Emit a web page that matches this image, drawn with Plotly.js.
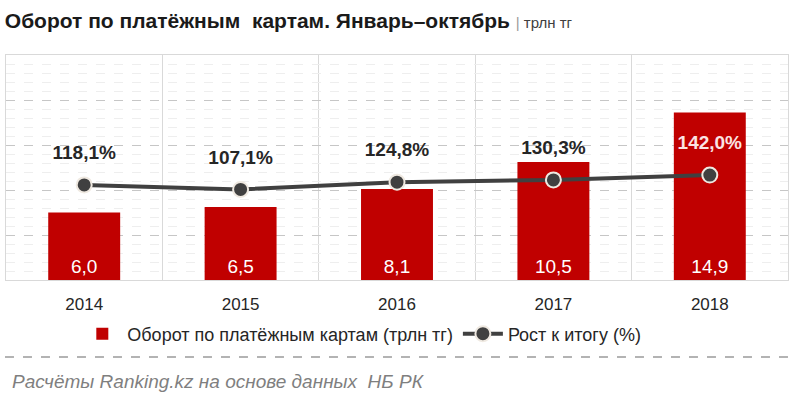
<!DOCTYPE html>
<html>
<head>
<meta charset="utf-8">
<script src="https://cdn.plot.ly/plotly-3.0.1.min.js"></script>
<style>
html,body{margin:0;padding:0;background:#fff;}
#chart{width:800px;height:397px;}
</style>
</head>
<body>
<div id="chart"></div>
<script>
// ---- data ----
const years = ['2014', '2015', '2016', '2017', '2018'];
const turnover = [6.0, 6.5, 8.1, 10.5, 14.9];          // трлн тг
const growth = [118.1, 107.1, 124.8, 130.3, 142.0];    // %
const turnoverName = 'Оборот по платёжным картам (трлн тг)';
const growthName = 'Рост к итогу (%)';
const titleMain = 'Оборот по платёжным\u00a0 картам. Январь–октябрь';
const titleUnit = 'трлн тг';
const sourceText = 'Расчёты Ranking.kz на основе данных\u00a0 НБ РК';

const FONT = '"Liberation Sans", Arial, sans-serif';
const fmt = v => v.toFixed(1).replace('.', ',');
const xi = years.map((_, i) => i);

const bars = {
  type: 'bar', name: turnoverName,
  x: xi, y: turnover, width: 0.46,
  marker: {color: '#C00000'},
  text: turnover.map(fmt),
  textposition: 'inside', insidetextanchor: 'start', textangle: 0,
  constraintext: 'none',
  textfont: {family: FONT, size: 19, color: '#ffffff'},
  hoverinfo: 'skip'
};

const line = {
  type: 'scatter', mode: 'lines+markers', name: growthName,
  x: xi, y: growth, yaxis: 'y2',
  line: {color: '#404040', width: 4},
  marker: {size: 15, color: '#404040', line: {color: '#efe9e1', width: 2}},
  hoverinfo: 'skip'
};

const labels = {
  type: 'scatter', mode: 'markers+text', showlegend: false,
  x: xi, y: growth, yaxis: 'y2',
  marker: {size: 32, color: 'rgba(0,0,0,0)'},
  text: growth.map(v => fmt(v) + '%'),
  textposition: 'top center',
  textfont: {family: FONT, size: 19, weight: 'bold',
    color: growth.map((v, i) => i === growth.length - 1 ? '#fbe3e3' : '#262626')},
  hoverinfo: 'skip'
};

const layout = {
  width: 800, height: 397,
  margin: {l: 6, r: 12, t: 55, b: 117, pad: 0},
  paper_bgcolor: '#ffffff', plot_bgcolor: '#ffffff',
  font: {family: FONT, color: '#262626'},
  title: {
    text: '<b>' + titleMain + '</b> <span style="font-size:15px;color:#9a9a9a">|</span><span style="font-size:15px;color:#404040"> ' + titleUnit + '</span>',
    font: {family: FONT, size: 21, color: '#1a1a1a'},
    x: 0.006, xanchor: 'left', xref: 'container',
    y: 0.947, yanchor: 'middle', yref: 'container'
  },
  showlegend: true,
  legend: {
    orientation: 'h', x: 0.455, xanchor: 'center', y: -0.24, yanchor: 'middle',
    font: {family: FONT, size: 18, color: '#262626'},
    itemwidth: 40, tracegroupgap: 0, traceorder: 'normal'
  },
  xaxis: {
    range: [-0.5, 4.5], tickmode: 'array', tickvals: xi, ticktext: years,
    showgrid: false, zeroline: false,
    showline: true, mirror: true, linecolor: '#d9d9d9', linewidth: 1,
    ticks: '', ticklabelstandoff: 9,
    tickfont: {family: FONT, size: 17, color: '#262626'},
    minor: {tick0: 0.5, dtick: 1, showgrid: true, gridcolor: '#d9d9d9', gridwidth: 1, ticks: ''},
    fixedrange: true
  },
  yaxis: {
    range: [0, 20], dtick: 4, showticklabels: false, ticks: '',
    showgrid: true, gridcolor: '#c6c6c6', griddash: 'dash', gridwidth: 1,
    minor: {dtick: 0.8, showgrid: true, gridcolor: '#eeeeee', gridwidth: 1, ticks: ''},
    zeroline: false, showline: true, mirror: true, linecolor: '#d9d9d9', linewidth: 1,
    fixedrange: true
  },
  yaxis2: {
    range: [-114, 435], overlaying: 'y', side: 'right',
    showgrid: false, showticklabels: false, zeroline: false, showline: false, ticks: '',
    fixedrange: true
  },
  shapes: [{
    type: 'line', xref: 'paper', yref: 'paper',
    x0: -0.0013, x1: 1.004, y0: -0.342, y1: -0.342,
    line: {color: '#9a9a9a', width: 1.5, dash: 'dash'}
  }],
  annotations: [{
    text: '<i>' + sourceText + '</i>', showarrow: false,
    xref: 'paper', yref: 'paper', x: 0.005, xanchor: 'left', y: -0.449, yanchor: 'middle',
    font: {family: FONT, size: 19, color: '#7f7f7f'}
  }]
};

Plotly.newPlot('chart', [bars, line, labels], layout, {displayModeBar: false, staticPlot: true});
</script>
</body>
</html>
